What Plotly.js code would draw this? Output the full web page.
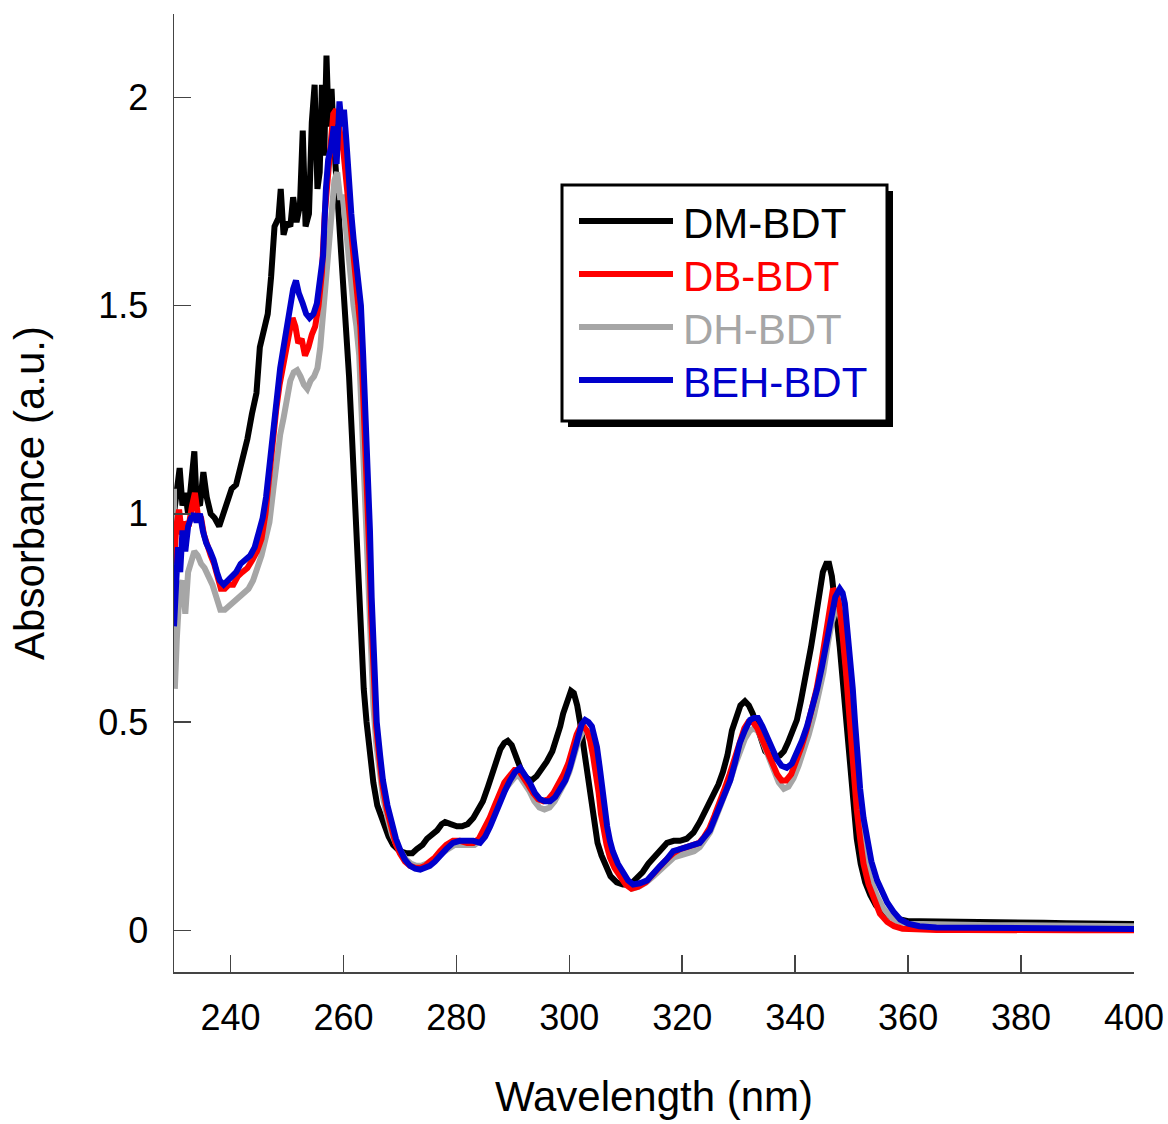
<!DOCTYPE html>
<html>
<head>
<meta charset="utf-8">
<script src="https://cdn.plot.ly/plotly-3.0.1.min.js"></script>
<style>html,body{margin:0;padding:0;background:#fff;}#chart{width:1168px;height:1124px;}</style>
</head>
<body>
<div id="chart"></div>
<script>
// ---------- DATA ----------
const seriesNames = ["DM-BDT", "DB-BDT", "DH-BDT", "BEH-BDT"];

const dmWavelength = [230.0,230.5,231.0,231.5,232.0,232.5,233.0,233.6,234.0,234.6,235.2,235.8,236.5,237.2,238.0,238.8,239.5,240.2,241.0,242.0,243.0,243.8,244.6,245.2,246.0,246.6,247.2,247.8,248.5,248.9,249.4,250.0,250.6,251.1,251.7,252.3,252.8,253.3,253.9,254.4,254.9,255.4,255.8,256.2,256.6,257.0,257.4,257.9,258.3,258.8,259.3,260.0,260.5,261.0,261.5,262.0,262.5,263.0,263.6,264.1,264.7,265.3,266.0,267.0,268.0,268.8,270.0,271.2,272.2,273.0,274.0,274.8,275.7,276.6,277.4,278.0,279.0,280.1,281.0,282.0,283.0,284.0,284.7,285.6,286.5,287.2,287.8,288.5,289.1,289.8,290.5,291.1,291.6,292.5,293.3,294.2,295.0,296.0,297.0,297.8,298.4,298.9,299.6,300.3,300.8,301.4,301.9,302.4,302.9,303.4,303.9,304.4,305.0,305.7,306.5,307.3,308.4,309.5,310.8,312.0,313.0,314.0,315.0,316.2,317.3,318.5,319.6,320.8,322.0,323.1,324.2,325.5,326.4,327.2,328.0,328.8,329.5,330.3,331.1,331.8,332.5,333.2,333.9,334.7,335.5,336.4,337.3,338.0,338.7,339.5,340.3,341.0,341.6,342.2,342.8,343.4,343.9,344.4,344.9,345.5,346.0,346.5,347.0,347.5,347.9,348.4,348.8,349.3,349.8,350.3,350.9,351.6,352.4,353.3,354.3,355.5,357.0,358.6,360,362,365,368,372,376,380,384,388,392,396,400];
const dmAbs = [1.00,1.06,1.11,1.02,1.05,1.00,1.08,1.15,1.03,1.02,1.10,1.04,1.00,0.99,0.97,1.00,1.03,1.06,1.07,1.12,1.18,1.24,1.29,1.40,1.44,1.48,1.57,1.69,1.71,1.78,1.67,1.70,1.69,1.76,1.70,1.74,1.92,1.69,1.72,1.94,2.03,1.78,1.82,2.03,1.86,2.10,1.93,2.02,1.90,1.80,1.71,1.57,1.47,1.33,1.19,1.03,0.86,0.70,0.58,0.50,0.42,0.355,0.30,0.26,0.225,0.205,0.19,0.185,0.185,0.195,0.205,0.22,0.23,0.24,0.255,0.26,0.255,0.25,0.25,0.255,0.27,0.29,0.31,0.345,0.38,0.41,0.435,0.45,0.455,0.445,0.42,0.395,0.38,0.365,0.36,0.37,0.385,0.405,0.43,0.46,0.49,0.52,0.55,0.575,0.57,0.54,0.50,0.45,0.40,0.35,0.30,0.25,0.21,0.18,0.15,0.13,0.115,0.11,0.11,0.125,0.14,0.16,0.175,0.195,0.21,0.215,0.215,0.22,0.235,0.26,0.29,0.32,0.35,0.38,0.42,0.48,0.51,0.54,0.55,0.54,0.52,0.49,0.46,0.43,0.42,0.415,0.42,0.43,0.45,0.475,0.505,0.55,0.59,0.63,0.68,0.73,0.77,0.82,0.86,0.88,0.88,0.85,0.80,0.73,0.68,0.60,0.53,0.45,0.37,0.29,0.22,0.16,0.115,0.085,0.06,0.045,0.032,0.026,0.022,0.022,0.021,0.02,0.02,0.019,0.018,0.018,0.017,0.016,0.016,0.015];

const dbWavelength = [230.0,230.4,230.9,231.4,232.0,232.6,233.2,233.7,234.2,234.8,235.3,235.9,236.5,237.1,237.7,238.3,239.0,239.7,240.5,241.3,242.1,243.0,243.9,244.7,245.5,246.2,246.8,247.4,248.1,248.7,249.3,249.9,250.5,251.0,251.5,252.0,252.6,253.2,253.8,254.4,255.0,255.6,256.2,256.7,257.2,257.7,258.2,258.7,259.2,259.6,260.0,260.5,261.0,261.5,262.0,262.5,263.0,263.4,263.8,264.2,264.6,264.9,265.3,265.8,266.4,266.9,267.7,268.5,269.2,270.0,270.9,271.8,272.7,273.6,274.5,275.3,276.2,277.1,278.2,279.4,280.6,281.9,283.0,284.0,285.0,285.9,286.8,287.6,288.5,289.4,290.3,291.0,291.8,292.7,293.6,294.5,295.4,296.3,297.2,298.1,299.0,299.8,300.6,301.3,302.0,302.5,303.1,303.7,304.2,304.7,305.2,305.6,306.1,306.6,307.2,308.0,309.0,310.0,311.0,312.2,313.5,314.8,316.0,317.2,318.4,319.6,320.8,322.0,323.0,323.9,324.8,325.7,326.6,327.5,328.4,329.2,330.1,331.0,331.7,332.5,333.3,334.1,335.0,335.9,336.8,337.6,338.4,339.3,340.2,341.1,342.0,342.9,343.8,344.6,345.4,346.1,346.7,347.2,347.7,348.1,348.5,349.0,349.5,349.9,350.4,350.9,351.5,352.1,353.0,354.0,355.0,356.3,357.5,359.0,361,365,370,375,380,385,390,395,400];
const dbAbs = [0.88,0.97,1.01,0.95,0.98,0.97,1.02,1.05,1.00,0.99,0.95,0.92,0.90,0.88,0.85,0.82,0.82,0.83,0.83,0.85,0.86,0.87,0.89,0.91,0.94,1.00,1.08,1.17,1.25,1.31,1.36,1.40,1.44,1.47,1.45,1.41,1.42,1.38,1.40,1.43,1.45,1.50,1.58,1.72,1.80,1.90,1.96,1.97,1.92,1.90,1.87,1.80,1.72,1.65,1.58,1.53,1.45,1.32,1.20,1.05,0.90,0.76,0.64,0.49,0.41,0.35,0.29,0.245,0.21,0.185,0.165,0.155,0.15,0.15,0.155,0.165,0.175,0.19,0.205,0.215,0.215,0.21,0.21,0.22,0.245,0.27,0.30,0.33,0.355,0.37,0.385,0.385,0.37,0.35,0.33,0.315,0.31,0.315,0.33,0.35,0.375,0.40,0.44,0.47,0.49,0.49,0.48,0.455,0.42,0.38,0.33,0.28,0.24,0.205,0.175,0.15,0.13,0.11,0.10,0.105,0.115,0.135,0.155,0.17,0.185,0.195,0.20,0.205,0.21,0.225,0.245,0.275,0.305,0.34,0.375,0.41,0.455,0.485,0.50,0.50,0.485,0.46,0.43,0.40,0.375,0.36,0.36,0.375,0.405,0.44,0.48,0.525,0.58,0.64,0.71,0.78,0.82,0.81,0.79,0.75,0.70,0.62,0.53,0.45,0.37,0.29,0.22,0.16,0.11,0.07,0.04,0.02,0.01,0.004,0.002,0.001,0.001,0.0,0.0,0.0,0.0,0.0,0.0];

const dhWavelength = [230.0,230.15,230.5,231.0,231.5,232.0,232.5,233.0,233.6,234.2,234.8,235.4,236.1,236.8,237.5,238.2,239.0,239.8,240.6,241.4,242.3,243.2,244.0,244.8,245.5,246.2,246.9,247.6,248.2,248.8,249.4,250.0,250.6,251.2,251.8,252.4,253.0,253.6,254.2,254.8,255.4,255.9,256.4,256.9,257.4,257.9,258.4,258.9,259.4,259.9,260.3,260.8,261.3,261.8,262.3,262.8,263.2,263.6,264.0,264.4,264.8,265.3,265.8,266.4,267.0,267.8,268.6,269.4,270.2,271.1,272.0,272.9,273.8,274.7,275.6,276.5,277.4,278.5,279.7,280.9,282.1,283.2,284.2,285.1,286.0,286.9,287.8,288.7,289.6,290.5,291.2,292.0,292.9,293.8,294.7,295.6,296.5,297.4,298.3,299.2,300.0,300.8,301.6,302.3,302.9,303.5,304.1,304.6,305.1,305.5,306.0,306.5,307.0,307.6,308.4,309.3,310.2,311.1,312.3,313.6,314.9,316.1,317.3,318.5,319.7,320.9,322.1,323.1,324.0,324.9,325.8,326.7,327.6,328.5,329.3,330.2,331.1,332.0,332.8,333.6,334.4,335.3,336.2,337.1,338.0,338.8,339.7,340.6,341.5,342.4,343.3,344.2,345.0,345.8,346.5,347.2,347.7,348.2,348.6,349.1,349.6,350.1,350.6,351.2,351.8,352.5,353.4,354.4,355.5,356.7,358.0,360,365,370,375,380,385,390,395,400];
const dhAbs = [1.06,0.58,0.70,0.82,0.84,0.76,0.86,0.89,0.91,0.90,0.88,0.87,0.85,0.83,0.80,0.77,0.77,0.78,0.79,0.80,0.81,0.82,0.84,0.87,0.90,0.94,0.98,1.06,1.13,1.19,1.23,1.28,1.32,1.34,1.345,1.33,1.31,1.30,1.32,1.33,1.35,1.40,1.48,1.56,1.68,1.76,1.80,1.82,1.76,1.76,1.70,1.62,1.55,1.50,1.45,1.38,1.25,1.10,0.95,0.80,0.66,0.54,0.45,0.38,0.32,0.27,0.23,0.205,0.185,0.17,0.16,0.155,0.155,0.16,0.165,0.175,0.185,0.195,0.205,0.205,0.205,0.205,0.215,0.235,0.26,0.29,0.315,0.34,0.355,0.37,0.37,0.355,0.335,0.31,0.295,0.29,0.295,0.31,0.33,0.355,0.38,0.42,0.455,0.475,0.48,0.47,0.445,0.41,0.37,0.32,0.27,0.23,0.195,0.17,0.145,0.125,0.11,0.10,0.105,0.115,0.13,0.145,0.16,0.175,0.18,0.185,0.19,0.20,0.215,0.235,0.265,0.295,0.33,0.36,0.395,0.43,0.46,0.48,0.485,0.475,0.45,0.42,0.385,0.355,0.34,0.345,0.365,0.395,0.43,0.47,0.515,0.565,0.62,0.69,0.74,0.77,0.77,0.74,0.70,0.62,0.54,0.45,0.37,0.29,0.22,0.165,0.12,0.085,0.055,0.035,0.022,0.016,0.014,0.013,0.012,0.012,0.011,0.011,0.01,0.01];

const behWavelength = [230.0,230.3,230.7,231.1,231.5,232.0,232.5,233.0,233.5,234.0,234.6,235.1,235.7,236.4,237.0,237.6,238.1,238.8,239.5,240.2,241.0,241.8,242.6,243.5,244.3,245.0,245.7,246.3,246.9,247.5,248.2,248.8,249.4,250.0,250.6,251.1,251.6,252.1,252.8,253.4,254.0,254.7,255.3,255.9,256.4,256.9,257.3,257.8,258.3,258.8,259.3,259.7,260.1,260.5,260.9,261.4,261.8,262.3,262.7,263.1,263.5,263.9,264.3,264.7,265.0,265.4,265.9,266.5,267.0,267.8,268.6,269.3,270.0,270.9,271.8,272.7,273.6,274.5,275.3,276.2,277.1,278.2,279.4,280.6,281.9,283.0,284.2,285.1,286.0,286.9,287.7,288.6,289.5,290.4,291.3,292.1,293.0,293.9,294.8,295.7,296.6,297.5,298.4,299.3,300.1,300.8,301.5,302.2,302.8,303.4,304.0,304.5,304.9,305.4,305.8,306.3,306.7,307.2,307.7,308.6,309.5,310.4,311.3,312.5,313.8,315.0,316.1,317.2,318.4,319.6,320.8,322.0,323.1,324.0,324.9,325.8,326.7,327.6,328.5,329.3,330.2,331.1,332.0,332.7,333.4,334.2,335.0,335.9,336.8,337.6,338.5,339.4,340.3,341.2,342.1,343.0,343.9,344.7,345.6,346.3,347.1,347.9,348.4,348.8,349.2,349.7,350.2,350.6,351.0,351.5,352.1,352.7,353.5,354.5,355.4,356.3,357.4,358.6,360.0,362.0,365,370,375,380,385,390,395,400];
const behAbs = [0.73,0.80,0.92,0.86,0.96,0.91,0.97,0.99,1.00,0.98,1.00,0.96,0.93,0.91,0.89,0.86,0.84,0.83,0.84,0.85,0.86,0.88,0.89,0.90,0.92,0.95,0.99,1.04,1.12,1.21,1.29,1.35,1.40,1.45,1.50,1.54,1.56,1.53,1.505,1.48,1.47,1.48,1.505,1.56,1.62,1.78,1.85,1.88,1.93,1.84,1.99,1.93,1.97,1.90,1.80,1.72,1.66,1.60,1.56,1.50,1.38,1.25,1.10,0.96,0.80,0.67,0.50,0.42,0.36,0.30,0.25,0.22,0.195,0.17,0.155,0.148,0.146,0.15,0.155,0.165,0.18,0.195,0.21,0.215,0.215,0.215,0.21,0.225,0.25,0.28,0.31,0.335,0.36,0.38,0.39,0.375,0.355,0.33,0.315,0.31,0.31,0.32,0.34,0.36,0.39,0.43,0.465,0.495,0.505,0.50,0.49,0.465,0.44,0.39,0.34,0.29,0.25,0.215,0.19,0.16,0.14,0.12,0.11,0.113,0.12,0.14,0.155,0.17,0.19,0.195,0.20,0.205,0.21,0.225,0.24,0.27,0.30,0.33,0.36,0.40,0.45,0.48,0.505,0.51,0.51,0.49,0.465,0.435,0.41,0.395,0.39,0.40,0.425,0.455,0.49,0.53,0.58,0.63,0.70,0.75,0.80,0.82,0.81,0.785,0.73,0.66,0.58,0.50,0.42,0.34,0.27,0.22,0.165,0.12,0.09,0.067,0.045,0.026,0.016,0.01,0.007,0.006,0.005,0.005,0.004,0.004,0.004,0.003];

const xTickValues = [240, 260, 280, 300, 320, 340, 360, 380, 400];
const yTickValues = [0, 0.5, 1, 1.5, 2];
const yTickLabels = ["0", "0.5", "1", "1.5", "2"];

// ---------- STYLE ----------
const colors = {"DM-BDT": "#000000", "DB-BDT": "#ff0000", "DH-BDT": "#a6a6a6", "BEH-BDT": "#0000cc"};
const FONT = "Arial, 'Liberation Sans', sans-serif";
const W = 1168, H = 1124;
const M = {l: 174, r: 34, t: 14, b: 152};
const plotW = W - M.l - M.r, plotH = H - M.t - M.b;
const px = p => (p - M.l) / plotW;          // pixel -> paper x
const py = p => (H - M.b - p) / plotH;      // pixel -> paper y

const seriesData = {
  "DM-BDT": [dmWavelength, dmAbs],
  "DB-BDT": [dbWavelength, dbAbs],
  "DH-BDT": [dhWavelength, dhAbs],
  "BEH-BDT": [behWavelength, behAbs]
};
const drawOrder = ["DM-BDT", "DH-BDT", "DB-BDT", "BEH-BDT"];
const traces = drawOrder.map(n => ({
  type: "scatter", mode: "lines", name: n,
  x: seriesData[n][0], y: seriesData[n][1],
  line: {color: colors[n], width: 6},
  showlegend: false, hoverinfo: "skip"
}));

// Legend drawn as shapes + annotations
const shapes = [];
const annotations = [];
const box = {x0: 562, x1: 887, y0: 185, y1: 421};
shapes.push({type: "rect", xref: "paper", yref: "paper", x0: px(box.x0 + 6), x1: px(box.x1 + 6), y0: py(box.y1 + 6), y1: py(box.y0 + 6), fillcolor: "#000", line: {width: 0}, layer: "above"});
shapes.push({type: "rect", xref: "paper", yref: "paper", x0: px(box.x0), x1: px(box.x1), y0: py(box.y1), y1: py(box.y0), fillcolor: "#fff", line: {color: "#000", width: 3}, layer: "above"});
const rowY = [221, 274, 327, 380];
seriesNames.forEach((n, i) => {
  shapes.push({type: "line", xref: "paper", yref: "paper", x0: px(579), x1: px(673), y0: py(rowY[i]), y1: py(rowY[i]), line: {color: colors[n], width: 6}, layer: "above"});
  annotations.push({xref: "paper", yref: "paper", x: px(681), y: py(rowY[i] + 2), xanchor: "left", yanchor: "middle", text: n, showarrow: false, font: {family: FONT, size: 42, color: colors[n]}});
});

const layout = {
  width: W, height: H,
  margin: M,
  paper_bgcolor: "#fff", plot_bgcolor: "#fff",
  showlegend: false,
  font: {family: FONT, color: "#000"},
  xaxis: {
    range: [230, 400], tickvals: xTickValues, ticks: "inside", ticklen: 17, tickwidth: 1.5, tickcolor: "#444",
    showline: true, linecolor: "#444", linewidth: 1.5, showgrid: false, zeroline: false,
    tickfont: {size: 36, family: FONT, color: "#000"}, ticklabelstandoff: 13,
    title: {text: "Wavelength (nm)", font: {size: 42, family: FONT, color: "#000"}, standoff: 45}
  },
  yaxis: {
    range: [-0.1, 2.2], tickvals: yTickValues, ticktext: yTickLabels, ticks: "inside", ticklen: 17, tickwidth: 1.5, tickcolor: "#444",
    showline: true, linecolor: "#444", linewidth: 1.5, showgrid: false, zeroline: false,
    tickfont: {size: 36, family: FONT, color: "#000"}, ticklabelstandoff: 17,
    title: {text: "Absorbance (a.u.)", font: {size: 42, family: FONT, color: "#000"}, standoff: 40}
  },
  shapes: shapes,
  annotations: annotations
};

Plotly.newPlot("chart", traces, layout, {staticPlot: true, displayModeBar: false});
</script>
</body>
</html>
